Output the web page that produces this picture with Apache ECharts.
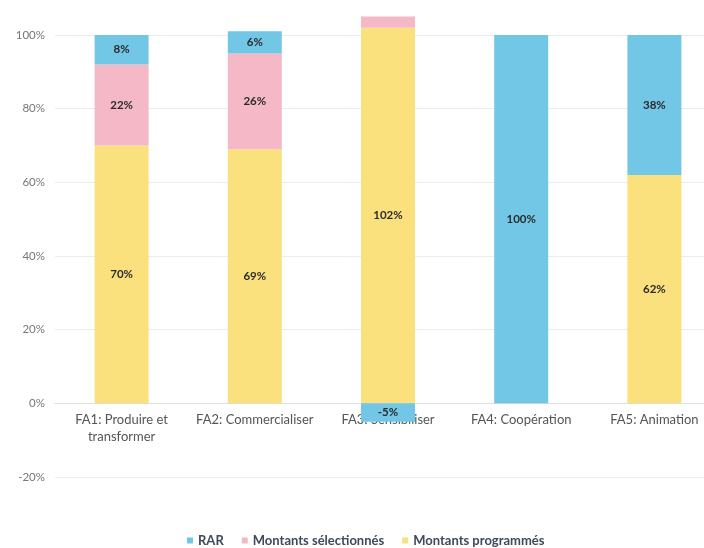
<!DOCTYPE html>
<html>
<head>
<meta charset="utf-8">
<script src="https://cdn.jsdelivr.net/npm/echarts@6/dist/echarts.min.js"></script>
<style>html,body{margin:0;padding:0;background:#fff}#c{width:704px;height:548px}</style>
</head>
<body>
<div id="c"></div>
<script>
var categories = ['FA1: Produire et\ntransformer', 'FA2: Commercialiser', 'FA3: Sensibiliser', 'FA4: Coopération', 'FA5: Animation'];
var programmes = [70, 69, 102, 0, 62];
var selectionnes = [22, 26, 3, 0, 0];
var rar = [8, 6, -5, 100, 38];
var yTicks = [-20, 0, 20, 40, 60, 80, 100];

var FONT = 'Lato, "Open Sans", sans-serif';
function lbl(p) {
  var v = p.value;
  if (v === 0 || (v > 0 && v < 4)) return '';
  return v + '%';
}
var labelStyle = { show: true, position: 'inside', formatter: lbl, color: '#2b2b2b', fontWeight: 'bold', fontSize: 11.5, fontFamily: FONT };

var gridTop = 35, gridBottom = 71, H = 548;
var zeroOffset = (H - gridTop - gridBottom) * (0 - yTicks[0]) / (yTicks[yTicks.length - 1] - yTicks[0]);

var chart = echarts.init(document.getElementById('c'), null, { renderer: 'canvas' });
chart.setOption({
  animation: false,
  grid: { left: 55, right: -17, top: gridTop, bottom: gridBottom, containLabel: false, outerBoundsMode: 'none' },
  legend: {
    data: ['RAR', 'Montants sélectionnés', 'Montants programmés'],
    top: 529, left: 182,
    icon: 'rect', itemWidth: 6, itemHeight: 6, itemGap: 18,
    textStyle: { color: '#3d4a5c', fontWeight: 'bold', fontSize: 13, fontFamily: FONT }
  },
  xAxis: {
    type: 'category', data: categories,
    offset: -zeroOffset,
    axisLine: { show: true, onZero: false, lineStyle: { color: '#dddddd' } },
    axisTick: { show: false },
    axisLabel: { color: '#555', fontSize: 13, fontFamily: FONT, margin: 8, interval: 0, lineHeight: 17 }
  },
  yAxis: {
    type: 'value', min: yTicks[0], max: yTicks[yTicks.length - 1], interval: 20,
    axisLine: { show: false }, axisTick: { show: false },
    axisLabel: { color: '#777', fontSize: 11.5, fontFamily: FONT, margin: 10, formatter: '{value}%' },
    splitLine: { lineStyle: { color: '#ececec' } }
  },
  series: [
    { name: 'Montants programmés', type: 'bar', stack: 's', data: programmes, barWidth: 54, clip: false,
      itemStyle: { color: '#fbe17e' }, label: labelStyle },
    { name: 'Montants sélectionnés', type: 'bar', stack: 's', data: selectionnes, barWidth: 54, clip: false,
      itemStyle: { color: '#f5b8c6' }, label: labelStyle },
    { name: 'RAR', type: 'bar', stack: 's', data: rar, barWidth: 54, clip: false,
      itemStyle: { color: '#72c6e6' }, label: labelStyle }
  ]
});
</script>
</body>
</html>
